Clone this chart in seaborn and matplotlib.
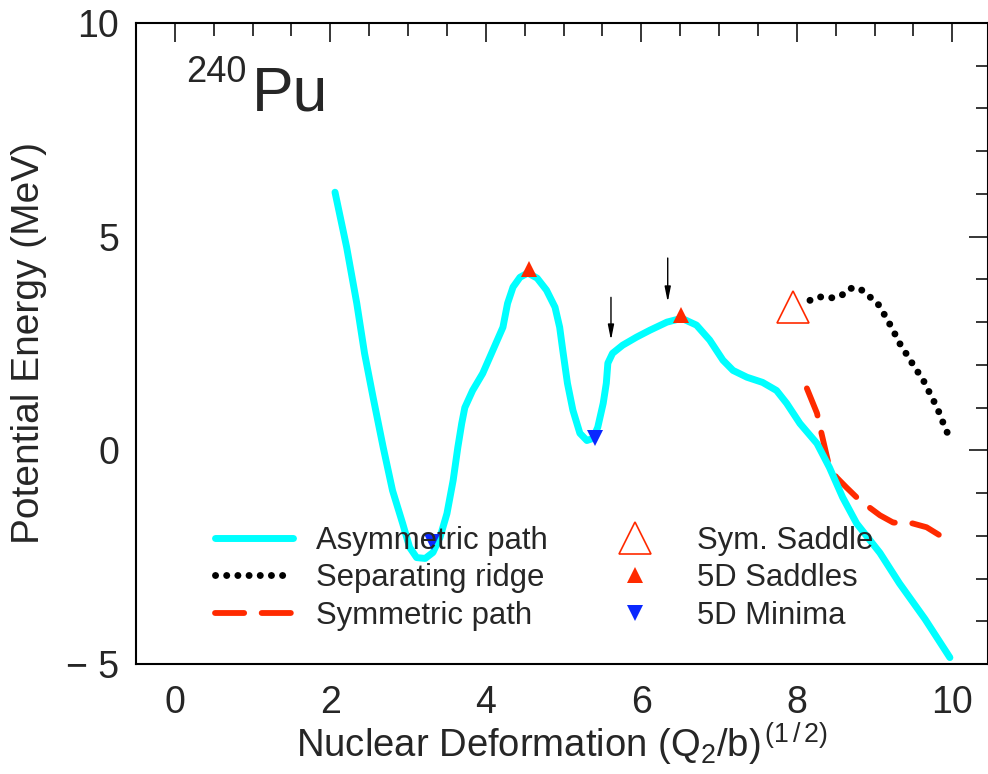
import matplotlib
matplotlib.use("Agg")
import matplotlib.pyplot as plt
import seaborn as sns
import pandas as pd
from matplotlib.lines import Line2D
from matplotlib.ticker import MultipleLocator

# ---------------- data ----------------
asym_x = [2.06, 2.21, 2.34, 2.44, 2.55, 2.68, 2.80, 2.93, 3.02, 3.11, 3.22, 3.32,
          3.41, 3.50, 3.58, 3.64, 3.69, 3.73, 3.83, 3.96, 4.09, 4.22, 4.28, 4.35,
          4.44, 4.54, 4.66, 4.78, 4.89, 4.95, 4.99, 5.05, 5.12, 5.21, 5.30, 5.38,
          5.44, 5.51, 5.55, 5.57, 5.63, 5.76, 5.94, 6.11, 6.33, 6.52, 6.71, 6.88,
          7.05, 7.18, 7.36, 7.56, 7.74, 7.87, 8.04, 8.26, 8.42, 8.59, 8.77, 9.07,
          9.32, 9.65, 9.97]
asym_y = [6.04, 4.75, 3.44, 2.27, 1.24, 0.07, -0.94, -1.71, -2.27, -2.51, -2.53, -2.39,
          -2.04, -1.48, -0.70, 0.07, 0.63, 1.00, 1.40, 1.80, 2.34, 2.88, 3.44, 3.82,
          4.05, 4.15, 4.03, 3.75, 3.35, 2.88, 2.34, 1.57, 0.94, 0.40, 0.23, 0.28,
          0.54, 1.10, 1.57, 2.04, 2.27, 2.46, 2.65, 2.81, 3.00, 3.09, 2.93, 2.58,
          2.11, 1.87, 1.71, 1.59, 1.40, 1.10, 0.63, 0.16, -0.40, -1.10, -1.71, -2.40,
          -3.11, -3.95, -4.85]

ridge_x = [8.17, 8.30, 8.45, 8.58, 8.68, 8.81, 8.91, 9.03, 9.11, 9.17, 9.24, 9.30,
           9.36, 9.45, 9.52, 9.61, 9.67, 9.74, 9.80, 9.86, 9.90, 9.97]
ridge_y = [3.51, 3.59, 3.57, 3.63, 3.79, 3.79, 3.63, 3.47, 3.23, 3.04, 2.81, 2.58,
           2.39, 2.15, 1.92, 1.71, 1.48, 1.24, 1.01, 0.77, 0.54, 0.30]

sym_x = [8.13, 8.26, 8.30, 8.42, 8.51, 8.64, 8.77, 8.90, 9.07, 9.24, 9.49, 9.67, 9.84, 9.97]
sym_y = [1.45, 0.87, 0.54, -0.40, -0.63, -0.87, -1.10, -1.29, -1.52, -1.69, -1.71, -1.80, -1.99, -2.18]

sym_saddle_x = [7.95]
sym_saddle_y = [3.35]

saddle_x = [4.55, 6.51]
saddle_y = [4.24, 3.16]

minima_x = [3.31, 5.41]
minima_y = [-2.15, 0.28]

arrow_x = [5.61, 6.34]
arrow_top = [3.58, 4.50]
arrow_tip = [2.58, 3.47]

xticks = [0, 2, 4, 6, 8, 10]
yticks = [-5, 0, 5, 10]
yticklabels = ["\u2212 5", "0", "5", "10"]

labels = ["Asymmetric path", "Separating ridge", "Symmetric path",
          "Sym. Saddle", "5D Saddles", "5D Minima"]

# ---------------- style ----------------
sns.set_style("white")
plt.rcParams["font.family"] = ["Liberation Sans", "DejaVu Sans"]
plt.rcParams["mathtext.fontset"] = "custom"
plt.rcParams["mathtext.rm"] = "Liberation Sans"
plt.rcParams["mathtext.it"] = "Liberation Sans:italic"
plt.rcParams["mathtext.bf"] = "Liberation Sans:bold"

CYAN = "#00ffff"
RED = "#ff2a00"
BLUE = "#0a28ff"

CYAN_LW = 5.0
RED_LW = 4.2
RED_DASH = (0, (5.0, 3.0))
DOT_LW = 5.0
DOT_STYLE = (0, (0.01, 1.6))

fig = plt.figure(figsize=(9.88, 7.74), dpi=100)
ax = fig.add_axes([136 / 988, 110 / 774, 852 / 988, 641 / 774])

df_sym = pd.DataFrame({"x": sym_x, "y": sym_y})
df_asym = pd.DataFrame({"x": asym_x, "y": asym_y})
df_ridge = pd.DataFrame({"x": ridge_x, "y": ridge_y})

sns.lineplot(data=df_sym, x="x", y="y", ax=ax, sort=False, color=RED, lw=RED_LW,
             linestyle=RED_DASH, dash_capstyle="round", dash_joinstyle="round")
sns.lineplot(data=df_asym, x="x", y="y", ax=ax, sort=False, color=CYAN, lw=CYAN_LW,
             solid_capstyle="round", solid_joinstyle="round")
sns.lineplot(data=df_ridge, x="x", y="y", ax=ax, sort=False, color="black", lw=DOT_LW,
             linestyle=DOT_STYLE, dash_capstyle="round")

ax.plot(sym_saddle_x, sym_saddle_y, marker="^", ms=23, mfc="white", mec=RED,
        mew=1.2, ls="none", zorder=4)
ax.plot(saddle_x, saddle_y, marker="^", ms=11.5, mfc=RED, mec=RED, mew=0,
        ls="none", zorder=4)
ax.plot(minima_x, minima_y, marker="v", ms=11.5, mfc=BLUE, mec=BLUE, mew=0,
        ls="none", zorder=4)

for xa, yt, yb in zip(arrow_x, arrow_top, arrow_tip):
    ax.annotate("", xy=(xa, yb), xytext=(xa, yt),
                arrowprops=dict(arrowstyle="-|>,head_length=0.9,head_width=0.18",
                                color="black", lw=1.0, shrinkA=0, shrinkB=0))

# nucleus label
ax.text(0.14, 8.62, "240", fontsize=26, ha="left", va="baseline")
ax.text(0.99, 7.96, "Pu", fontsize=45, ha="left", va="baseline")

# axes
ax.set_xlim(-0.5, 10.46)
ax.set_ylim(-5, 10)
ax.set_xticks(xticks)
ax.set_yticks(yticks)
ax.set_yticklabels(yticklabels)
ax.xaxis.set_minor_locator(MultipleLocator(0.5))
ax.yaxis.set_minor_locator(MultipleLocator(1))
ax.tick_params(which="both", direction="in", top=True, right=True, width=1.1,
               color="black")
ax.tick_params(which="major", length=14, labelsize=27)
ax.tick_params(which="minor", length=9)
ax.tick_params(axis="x", which="major", pad=15)
ax.tick_params(axis="y", which="major", pad=12)
for s in ax.spines.values():
    s.set_visible(True)
    s.set_color("black")
    s.set_linewidth(1.5)

ax.set_xlabel("Nuclear Deformation (Q$_2$/b)$^{\\,(1\\,/\\,2)}$", fontsize=27.5, labelpad=0)
ax.set_ylabel("Potential Energy (MeV)", fontsize=28, labelpad=14)

# legend
handles = [
    Line2D([], [], color=CYAN, lw=CYAN_LW, solid_capstyle="round"),
    Line2D([], [], color="black", lw=DOT_LW, linestyle=DOT_STYLE, dash_capstyle="round"),
    Line2D([], [], color=RED, lw=RED_LW, linestyle=RED_DASH, dash_capstyle="round"),
    Line2D([], [], marker="^", ms=23, mfc="white", mec=RED, mew=1.2, ls="none"),
    Line2D([], [], marker="^", ms=11.5, mfc=RED, mec=RED, mew=0, ls="none"),
    Line2D([], [], marker="v", ms=11.5, mfc=BLUE, mec=BLUE, mew=0, ls="none"),
]
leg = ax.legend(handles, labels, ncol=2, loc="lower left",
                bbox_to_anchor=(0.093, 0.052), frameon=False, fontsize=22.4,
                handlelength=2.5, handletextpad=0.75, columnspacing=1.55,
                labelspacing=0.24, borderpad=0, borderaxespad=0)

fig.savefig("out.png", dpi=100)
